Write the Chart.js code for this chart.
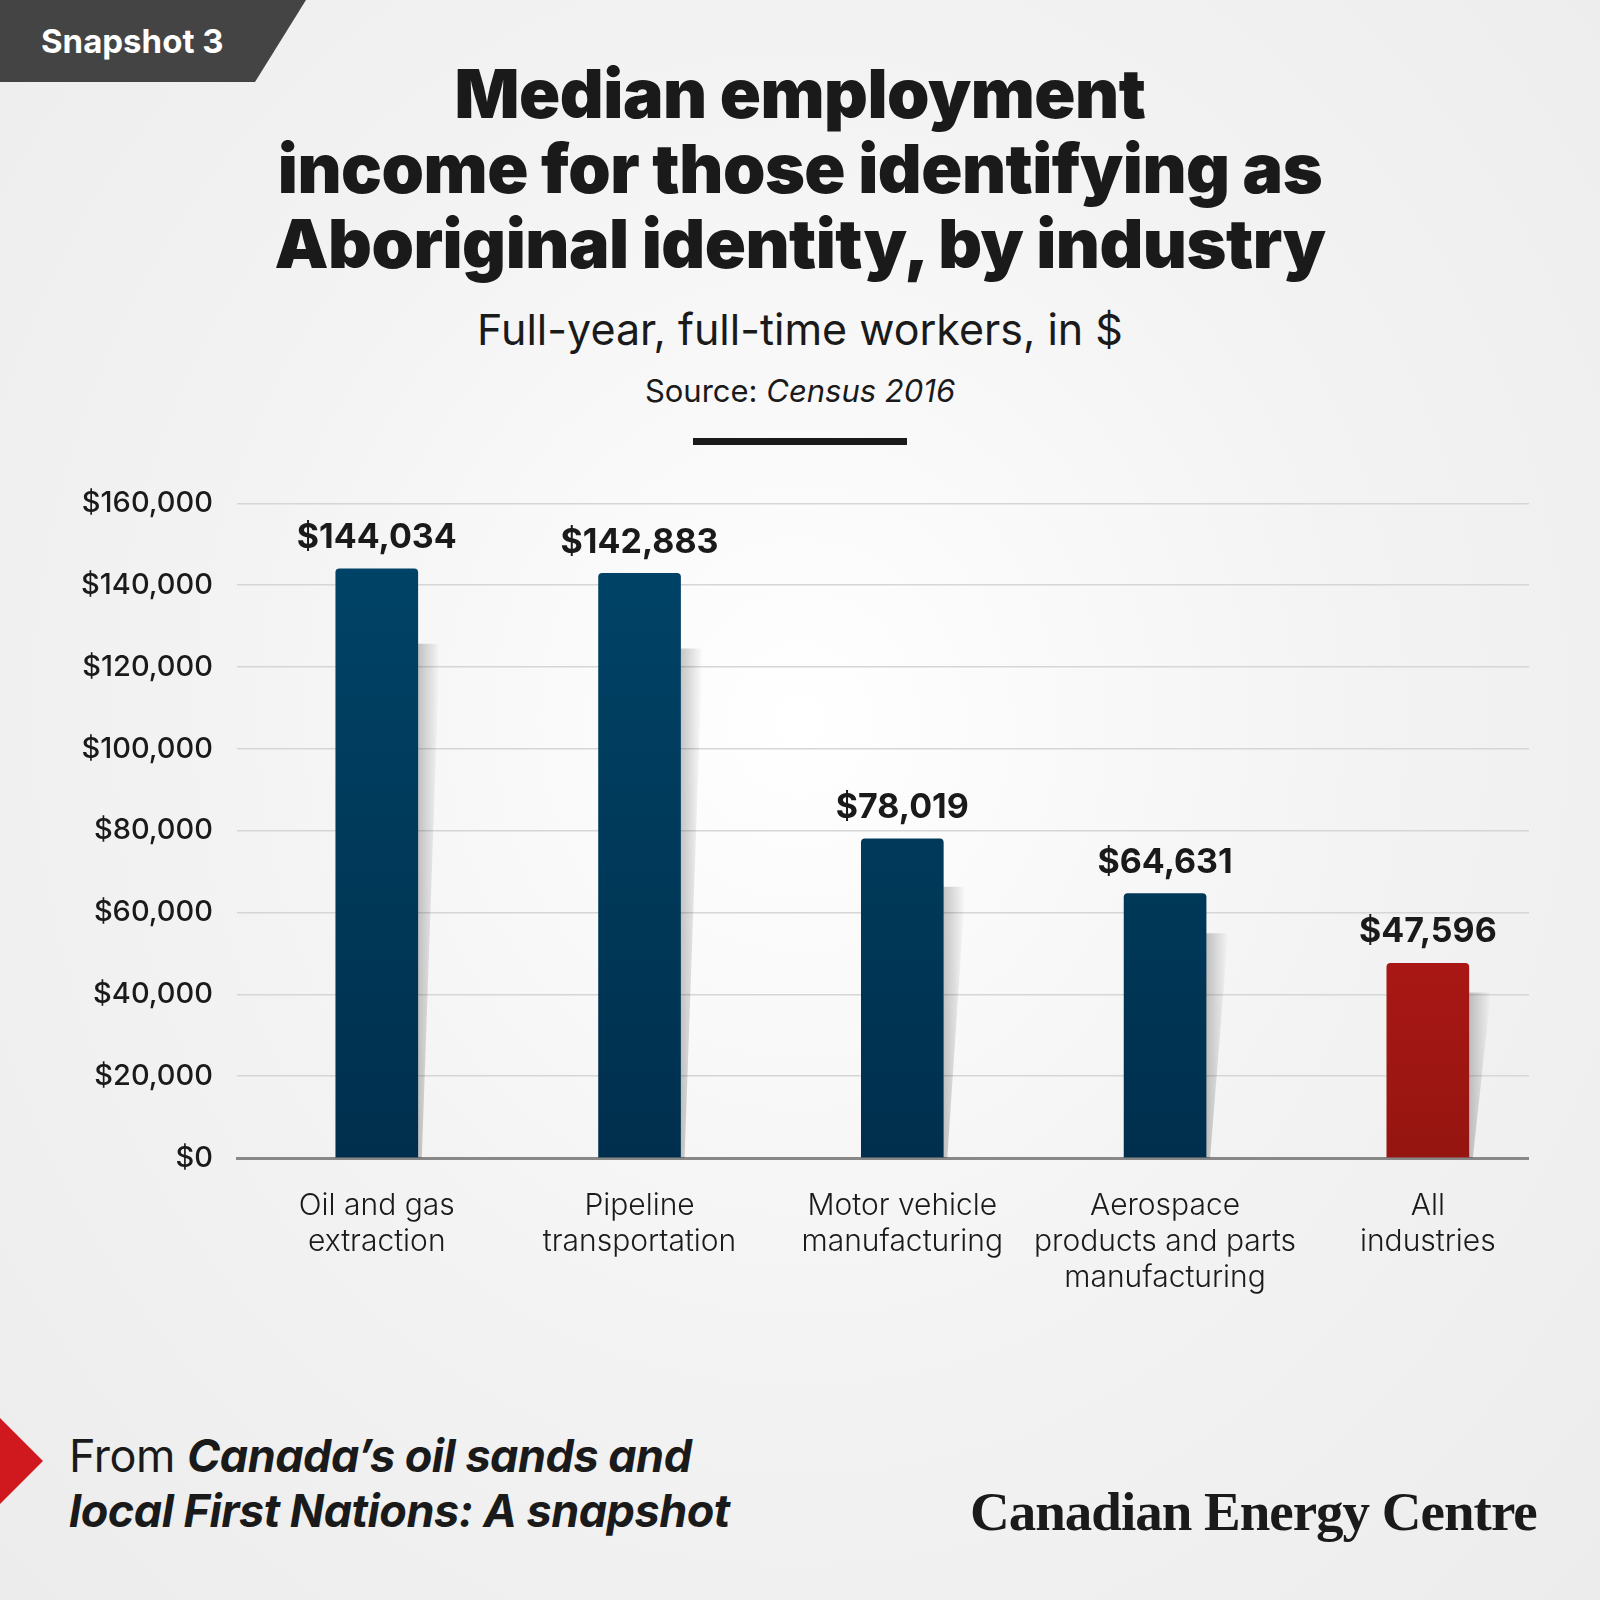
<!DOCTYPE html>
<html><head><meta charset="utf-8">
<script src="https://cdn.jsdelivr.net/npm/chart.js@4/dist/chart.umd.min.js"></script>
<style>
body{margin:0;width:1600px;height:1600px;background:radial-gradient(ellipse at 50% 45%,#ffffff 0%,#f3f3f3 50%,#ececec 100%);font-family:Inter,"Noto Sans",sans-serif;position:relative;overflow:hidden;color:#1a1a1a}
.abs{position:absolute}
#tag{left:0;top:0;width:306px;height:82px;background:#444;clip-path:polygon(0 0,306px 0,255px 82px,0 82px);color:#fff;font-weight:700;font-size:33px;line-height:82px;padding-left:41px;box-sizing:border-box}
#title{left:0;width:1600px;top:56px;text-align:center;font-weight:900;font-size:68px;line-height:75px;letter-spacing:-0.5px}
#sub{left:0;width:1600px;top:303px;text-align:center;font-size:43px;font-weight:400}
#src{left:0;width:1600px;top:372px;text-align:center;font-size:31px}
#rule{left:693px;top:438px;width:214px;height:7px;background:#1a1a1a}
#wrap{left:60px;top:462px;width:1469px;height:836px}
#arrow{left:0;top:1418px;width:43px;height:86px;background:#d0191e;clip-path:polygon(0 0,43px 43px,0 86px)}
#from{left:69px;top:1428px;font-size:45px;line-height:55px;letter-spacing:-0.5px}
#cec{left:970px;top:1480px;font-family:"Liberation Serif",serif;font-weight:700;font-size:55px;letter-spacing:-1px}
</style></head><body>
<div id="tag" class="abs">Snapshot 3</div>
<div id="title" class="abs">Median employment<br>income for those identifying as<br>Aboriginal identity, by industry</div>
<div id="sub" class="abs">Full-year, full-time workers, in $</div>
<div id="src" class="abs">Source: <i>Census 2016</i></div>
<div id="rule" class="abs"></div>
<div id="wrap" class="abs"><canvas id="c"></canvas></div>
<div id="arrow" class="abs"></div>
<div id="from" class="abs">From <b><i>Canada’s oil sands and</i></b><br><b><i>local First Nations: A snapshot</i></b></div>
<div id="cec" class="abs">Canadian Energy Centre</div>
<script>
const categories=[["Oil and gas","extraction"],["Pipeline","transportation"],["Motor vehicle","manufacturing"],["Aerospace","products and parts","manufacturing"],["All","industries"]];
const values=[144034,142883,78019,64631,47596];
const isTotal=[false,false,false,false,true];

const fmt=v=>"$"+v.toLocaleString("en-US");
function grad(ctx,i){
  const ca=ctx.chart.chartArea; if(!ca) return "#003f63";
  const g=ctx.chart.ctx.createLinearGradient(0,ca.top,0,ca.bottom);
  if(isTotal[i]){g.addColorStop(0,"#d81d20");g.addColorStop(1,"#951510");}
  else{g.addColorStop(0,"#004569");g.addColorStop(1,"#002f4d");}
  return g;
}
const labelPlugin={id:"lbl",afterDatasetsDraw(chart){
  const c=chart.ctx,m=chart.getDatasetMeta(0);
  c.save();c.font="bold 34px Inter, 'Noto Sans', sans-serif";c.fillStyle="#1a1a1a";c.textAlign="center";c.textBaseline="bottom";
  m.data.forEach((b,i)=>c.fillText(fmt(values[i]),b.x,b.y-14));
  c.restore();
},beforeDatasetsDraw(chart){
  const c=chart.ctx,m=chart.getDatasetMeta(0),ca=chart.chartArea;
  c.save();
  m.data.forEach((b)=>{
    const x=b.x+b.width/2, top=b.y+Math.min(75,(ca.bottom-b.y)*0.15);
    const g=c.createLinearGradient(x,0,x+22,0);g.addColorStop(0,"rgba(0,0,0,0.22)");g.addColorStop(1,"rgba(0,0,0,0)");
    c.fillStyle=g;c.beginPath();c.moveTo(x,top);c.lineTo(x+22,top);c.lineTo(x+4,ca.bottom);c.lineTo(x,ca.bottom);c.fill();
  });
  c.restore();
}};
new Chart(document.getElementById("c"),{
  type:"bar",
  data:{datasets:[{data:values.map((v,i)=>({x:i,y:v})),backgroundColor:(ctx)=>grad(ctx,ctx.dataIndex),barThickness:82,borderRadius:{topLeft:4,topRight:4}}]},
  options:{responsive:true,maintainAspectRatio:false,animation:false,
    layout:{padding:{top:18,right:0,left:0,bottom:0}},
    plugins:{legend:{display:false},tooltip:{enabled:false}},
    scales:{
      y:{min:0,max:160000,ticks:{stepSize:20000,callback:v=>fmt(v),color:"#1a1a1a",font:{size:29,family:"Inter",weight:500},padding:24},
         grid:{color:"#d6d6d6",lineWidth:1.5,drawTicks:false},border:{display:false},
         afterFit(s){s.width=177;}},
      x:{type:"linear",min:-0.532,max:4.385,offset:false,
         afterBuildTicks(s){s.ticks=categories.map((c,i)=>({value:i}));},
         ticks:{callback:(v)=>categories[v],color:"#1a1a1a",font:{size:30,family:"Inter",weight:300},padding:22,maxRotation:0,minRotation:0,autoSkip:false},grid:{display:false},
         border:{color:"#888",width:3},afterFit(s){s.height=140;}}
    }},
  plugins:[labelPlugin]
});
</script>
</body></html>
